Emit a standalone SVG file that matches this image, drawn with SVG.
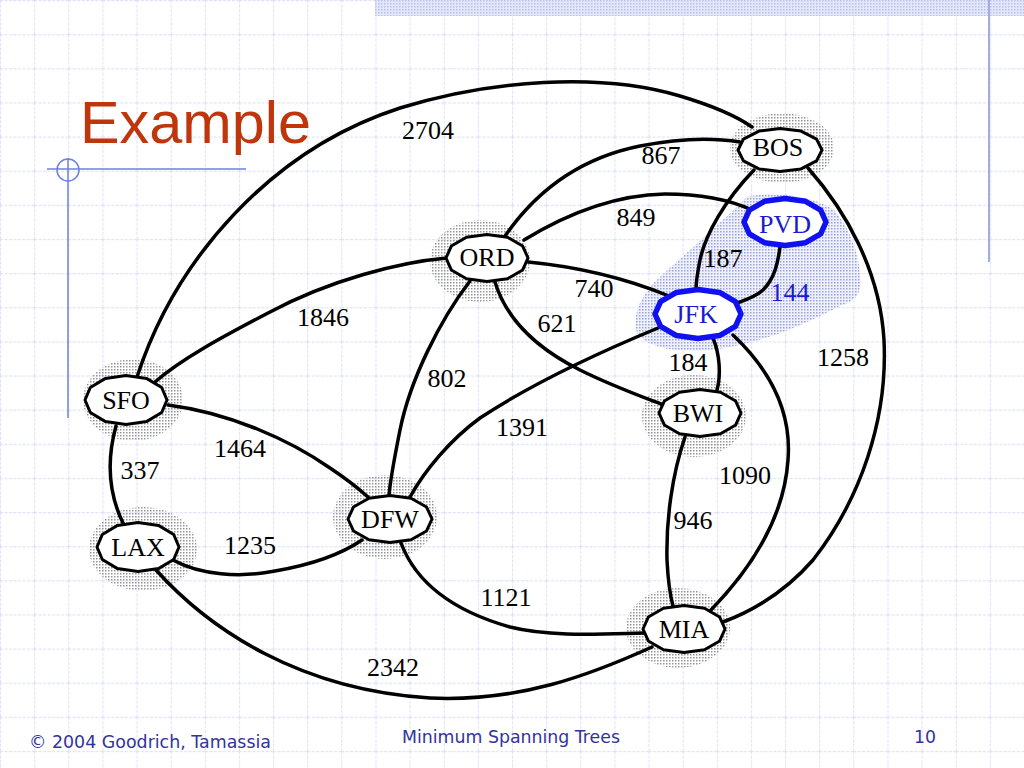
<svg xmlns="http://www.w3.org/2000/svg" xmlns:xlink="http://www.w3.org/1999/xlink" width="1024" height="768" viewBox="0 0 1024 768">
<defs>
  <pattern id="grid" width="34.1333" height="34.1333" patternUnits="userSpaceOnUse">
    <path d="M0.5,0 V34.1333 M0,0.5 H34.1333" stroke="#dfe2f6" stroke-width="1.2" stroke-dasharray="3,1.5" fill="none"/>
  </pattern>
  <pattern id="dots" width="3" height="3" patternUnits="userSpaceOnUse">
    <rect width="1.5" height="1.5" fill="#959595"/>
  </pattern>
  <pattern id="bdots" width="3" height="3" patternUnits="userSpaceOnUse">
    <rect width="3" height="3" fill="#eef0fb"/>
    <rect width="1.5" height="1.5" fill="#9ca3dc"/>
  </pattern>
  <pattern id="band" width="3" height="3" patternUnits="userSpaceOnUse">
    <rect width="3" height="3" fill="#e4e8fa"/>
    <rect width="1.5" height="1.5" fill="#b8c2ee"/>
  </pattern>
  <polygon id="shape" vector-effect="non-scaling-stroke" points="1,0 0.87,0.52 0.5,0.9 0,1.02 -0.5,0.9 -0.87,0.52 -1,0 -0.87,-0.52 -0.5,-0.9 0,-1.02 0.5,-0.9 0.87,-0.52"/>
</defs>
<style>
  .e { fill: none; stroke: #000; stroke-width: 3.5; stroke-linecap: round; stroke-linejoin: round; }
  .n { fill: #fff; stroke: #000; stroke-width: 3; stroke-linejoin: round; }
  .nb { fill: #fff; stroke: #1010f0; stroke-width: 5.5; stroke-linejoin: round; }
  .sh { fill: url(#dots); }
  .t { font-family: "Liberation Serif", "Times New Roman", serif; font-size: 26px; fill: #000; text-anchor: middle; }
  .tb { fill: #1a1ad0; }
  .ft { font-family: "DejaVu Sans", "Liberation Sans", sans-serif; font-size: 18px; fill: #33339a; }
  .deco { stroke: #6f7fe0; stroke-width: 1.5; fill: none; }
</style>
<rect width="1024" height="768" fill="#fff"/>
<rect width="1024" height="768" fill="url(#grid)"/>
<rect x="375" y="0" width="649" height="16" fill="url(#band)"/>
<line x1="989" y1="0" x2="989" y2="262" stroke="#a4ace4" stroke-width="2"/>
<g id="decoration">
  <line class="deco" x1="47" y1="169" x2="246" y2="169"/>
  <circle class="deco" cx="68" cy="170" r="11"/>
  <line class="deco" x1="68" y1="158" x2="68" y2="418"/>
</g>
<text x="80" y="143" font-family="Liberation Sans, Arial, sans-serif" font-size="60" fill="#c0360c" textLength="231" lengthAdjust="spacingAndGlyphs">Example</text>

<g id="shadows">
  <ellipse class="sh" cx="782" cy="148" rx="52" ry="35"/>
  <ellipse class="sh" cx="480" cy="261" rx="50" ry="41"/>
  <ellipse class="sh" cx="694" cy="416" rx="52" ry="41"/>
  <ellipse class="sh" cx="133" cy="400" rx="50" ry="41"/>
  <ellipse class="sh" cx="143" cy="549" rx="54" ry="42"/>
  <ellipse class="sh" cx="385" cy="517" rx="52" ry="42"/>
  <ellipse class="sh" cx="678" cy="628" rx="52" ry="40"/>
  <path fill="url(#bdots)" d="M747,197 C770,191 812,195 834,210 C852,230 862,262 860,287 C858,300 850,302 840,306 C810,322 760,345 710,350 C680,352 650,350 637,333 C632,315 640,295 660,277 C680,258 705,238 747,197 Z"/>
</g>

<g id="connectors">
  <path class="e" d="M137,377 C175,260 270,150 400,108 C490,80 600,72 680,96 C710,105 735,115 752,127"/>
  <path class="e" d="M505,236 C530,200 570,160 640,146 C680,138 710,137 740,142"/>
  <path class="e" d="M524,240 C560,218 610,195 665,194 C700,194 730,200 752,210"/>
  <path class="e" d="M754,170 C725,200 705,235 700,260 C697,275 696,285 696,290"/>
  <path class="e" d="M808,168 C845,210 880,270 884,340 C888,420 860,500 813,560 C785,592 755,610 723,622"/>
  <path class="e" d="M447,258 C400,262 330,280 270,312 C220,338 180,360 155,382"/>
  <path class="e" d="M528,262 C570,266 620,276 669,296"/>
  <path class="e" d="M495,282 C505,315 530,345 580,370 C610,385 640,396 661,404"/>
  <path class="e" d="M470,281 C440,320 410,380 400,430 C393,465 390,480 389,496"/>
  <path class="e" d="M658,328 C600,352 530,385 480,418 C450,440 425,470 410,497"/>
  <path class="e" d="M713,338 C720,355 721,375 717,390"/>
  <path class="e" d="M733,335 C770,370 792,410 788,460 C784,520 750,570 710,611"/>
  <path class="e" d="M685,437 C672,475 666,520 667,560 C668,580 670,595 673,606"/>
  <path class="e" d="M168,405 C230,413 290,440 330,468 C345,478 358,488 368,497"/>
  <path class="e" d="M116,426 C108,455 107,490 123,523"/>
  <path class="e" d="M173,560 C200,575 240,578 275,571 C310,565 340,555 362,540"/>
  <path class="e" d="M401,543 C415,580 450,610 510,627 C550,637 600,634 644,633"/>
  <path class="e" d="M156,570 C210,630 300,690 430,698 C520,702 590,675 652,647"/>
  <path class="e" d="M780,247 C778,262 775,278 763,290 C755,297 745,300 737,303" stroke="#1010f0" stroke-width="5.5"/>
</g>

<g id="node-BOS">
  <use class="n" xlink:href="#shape" href="#shape" transform="translate(780,150) scale(42,21)"/>
  <text class="t" x="778" y="156">BOS</text>
</g>
<g id="node-PVD">
  <use class="nb" xlink:href="#shape" href="#shape" transform="translate(785,222) scale(41,23)"/>
  <text class="t tb" x="785" y="233">PVD</text>
</g>
<g id="node-ORD">
  <use class="n" xlink:href="#shape" href="#shape" transform="translate(487,258) scale(41,23)"/>
  <text class="t" x="487" y="266">ORD</text>
</g>
<g id="node-JFK">
  <use class="nb" xlink:href="#shape" href="#shape" transform="translate(698,314) scale(43,24)"/>
  <text class="t tb" x="696" y="323">JFK</text>
</g>
<g id="node-BWI">
  <use class="n" xlink:href="#shape" href="#shape" transform="translate(700,413) scale(41,23)"/>
  <text class="t" x="698" y="422">BWI</text>
</g>
<g id="node-SFO">
  <use class="n" xlink:href="#shape" href="#shape" transform="translate(126,400) scale(41,24)"/>
  <text class="t" x="126" y="409">SFO</text>
</g>
<g id="node-LAX">
  <use class="n" xlink:href="#shape" href="#shape" transform="translate(138,547) scale(41,24)"/>
  <text class="t" x="138" y="556">LAX</text>
</g>
<g id="node-DFW">
  <use class="n" xlink:href="#shape" href="#shape" transform="translate(390,519) scale(42,23)"/>
  <text class="t" x="390" y="528">DFW</text>
</g>
<g id="node-MIA">
  <use class="n" xlink:href="#shape" href="#shape" transform="translate(684,629) scale(41,23)"/>
  <text class="t" x="684" y="638">MIA</text>
</g>

<g id="edge-labels">
  <text class="t" x="428" y="139">2704</text>
  <text class="t" x="661" y="164">867</text>
  <text class="t" x="636" y="226">849</text>
  <text class="t" x="723" y="267">187</text>
  <text class="t tb" x="790" y="301">144</text>
  <text class="t" x="323" y="326">1846</text>
  <text class="t" x="594" y="297">740</text>
  <text class="t" x="557" y="332">621</text>
  <text class="t" x="447" y="387">802</text>
  <text class="t" x="843" y="366">1258</text>
  <text class="t" x="688" y="371">184</text>
  <text class="t" x="522" y="436">1391</text>
  <text class="t" x="240" y="457">1464</text>
  <text class="t" x="140" y="479">337</text>
  <text class="t" x="745" y="484">1090</text>
  <text class="t" x="693" y="529">946</text>
  <text class="t" x="250" y="554">1235</text>
  <text class="t" x="506" y="606">1121</text>
  <text class="t" x="393" y="676">2342</text>
</g>

<g id="footer">
  <text class="ft" x="29" y="748" textLength="242" lengthAdjust="spacingAndGlyphs">© 2004 Goodrich, Tamassia</text>
  <text class="ft" x="402" y="743" textLength="218" lengthAdjust="spacingAndGlyphs">Minimum Spanning Trees</text>
  <text class="ft" x="914" y="743" textLength="22" lengthAdjust="spacingAndGlyphs">10</text>
</g>
</svg>
